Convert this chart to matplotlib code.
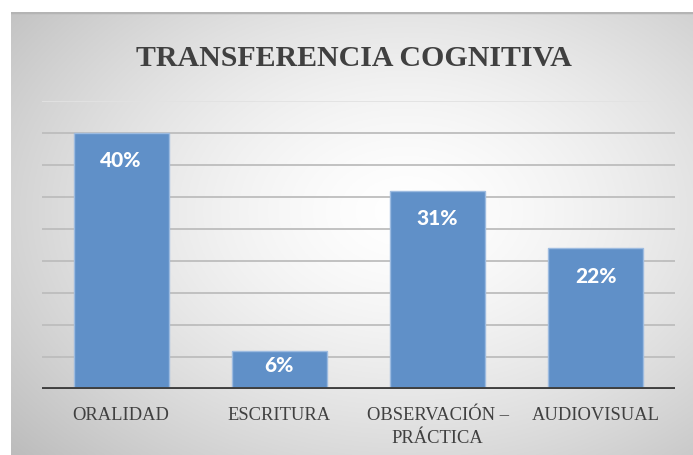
import matplotlib.pyplot as plt
import numpy as np

# Datos
categorias = ["ORALIDAD", "ESCRITURA", "OBSERVACIÓN –\nPRÁCTICA", "AUDIOVISUAL"]
valores = [40, 6, 31, 22]
etiquetas = ["40%", "6%", "31%", "22%"]

W, H = 693, 456
fig = plt.figure(figsize=(W / 100, H / 100), dpi=100)
fig.patch.set_facecolor("white")

# Fondo con degradado radial
bg = fig.add_axes([11 / W, 0, 1 - 11 / W, 1 - 13 / H])
yy, xx = np.mgrid[0:1:300j, 0:1:450j]
r = np.sqrt(((xx - 0.58) / 0.75) ** 2 + ((yy - 0.55) / 0.8) ** 2)
g = 1.0 - 0.25 * np.clip(r, 0, 1.2) ** 1.5
bg.imshow(np.dstack([g, g, g]), aspect="auto", extent=[0, 1, 0, 1], origin="lower")
bg.axhline(1, color="#b4b4b4", lw=2.5)
bg.set_axis_off()

ax = fig.add_axes([42 / W, 1 - 390 / H, (675 - 42) / W, (390 - 102) / H])
ax.patch.set_alpha(0)

x = np.arange(len(categorias))
for yv in range(5, 45, 5):
    ax.axhline(yv, color="#bdbdbd", lw=1.3, zorder=1)
ax.axhline(45, color="#e2e2e2", lw=1.3, zorder=1)

barras = ax.bar(x, valores, width=0.6, color="#6090c8", edgecolor="#9dbbe0",
                linewidth=1, zorder=2)

# Etiquetas dentro de la barra, cerca del extremo
for b, t in zip(barras, etiquetas):
    v = b.get_height()
    ax.text(b.get_x() + b.get_width() / 2, v - min(4.2, 0.37 * v), t,
            ha="center", va="center", color="white", fontsize=15,
            fontweight="black", family="Lato", zorder=3)

ax.axhline(0, color="#3f3f3f", lw=2.8, zorder=4)
ax.set_xlim(-0.5, len(categorias) - 0.5)
ax.set_ylim(0, 45)
ax.set_yticks([])
ax.set_xticks(x)
ax.set_xticklabels(categorias, family="Liberation Serif", fontsize=13.3,
                   color="#404040", linespacing=1.44)
ax.tick_params(axis="x", length=0, pad=12.5)
for s in ax.spines.values():
    s.set_visible(False)

fig.text(354 / W, 1 - 59 / H, "TRANSFERENCIA COGNITIVA", ha="center",
         va="center", family="Liberation Serif", fontweight="bold",
         fontsize=21.5, color="#404040")

fig.savefig("out.png", dpi=100)
